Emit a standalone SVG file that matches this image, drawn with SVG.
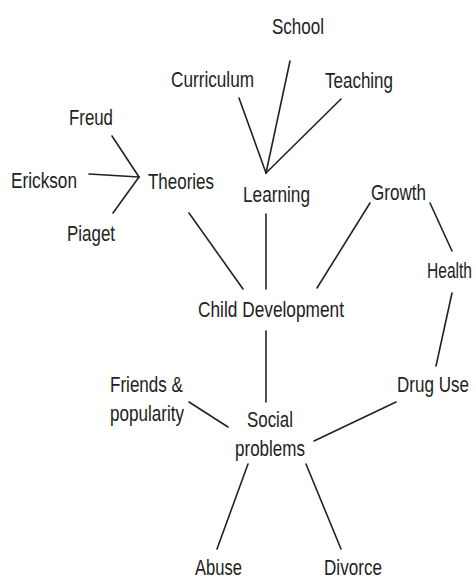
<svg xmlns="http://www.w3.org/2000/svg" width="476" height="577" viewBox="0 0 476 577">
<style>
text{font-family:"Liberation Sans",Arial,sans-serif;font-size:22px;fill:#222}
.c line{stroke:#222;stroke-width:1.6;stroke-linecap:round}
</style>
<rect width="476" height="577" fill="#fff"/>
<g class="c" id="connectors">
<line x1="112" y1="136" x2="139" y2="177"/>
<line x1="89" y1="174" x2="139" y2="177"/>
<line x1="113" y1="213" x2="139" y2="177"/>
<line x1="239" y1="98" x2="266" y2="173"/>
<line x1="290" y1="61" x2="266" y2="173"/>
<line x1="341" y1="99" x2="266" y2="173"/>
<line x1="189" y1="213" x2="243" y2="289"/>
<line x1="266" y1="214" x2="266" y2="289"/>
<line x1="370" y1="203" x2="317" y2="288"/>
<line x1="430" y1="203" x2="452" y2="251"/>
<line x1="452" y1="293" x2="436" y2="366"/>
<line x1="266" y1="331" x2="266" y2="402"/>
<line x1="189" y1="402" x2="228" y2="427"/>
<line x1="396" y1="402" x2="314" y2="441"/>
<line x1="248" y1="464" x2="217" y2="549"/>
<line x1="306" y1="464" x2="341" y2="549"/>
</g>
<g id="school"><text x="272" y="34" textLength="52" lengthAdjust="spacingAndGlyphs">School</text></g>
<g id="curriculum"><text x="171" y="87" textLength="83" lengthAdjust="spacingAndGlyphs">Curriculum</text></g>
<g id="teaching"><text x="325" y="88" textLength="68" lengthAdjust="spacingAndGlyphs">Teaching</text></g>
<g id="freud"><text x="69" y="125" textLength="44" lengthAdjust="spacingAndGlyphs">Freud</text></g>
<g id="erickson"><text x="11" y="188" textLength="66" lengthAdjust="spacingAndGlyphs">Erickson</text></g>
<g id="theories"><text x="148" y="189" textLength="66" lengthAdjust="spacingAndGlyphs">Theories</text></g>
<g id="learning"><text x="243" y="202" textLength="67" lengthAdjust="spacingAndGlyphs">Learning</text></g>
<g id="growth"><text x="371" y="200" textLength="55" lengthAdjust="spacingAndGlyphs">Growth</text></g>
<g id="piaget"><text x="67" y="241" textLength="48" lengthAdjust="spacingAndGlyphs">Piaget</text></g>
<g id="health"><text x="427" y="278" textLength="45" lengthAdjust="spacingAndGlyphs">Health</text></g>
<g id="child-development"><text x="198" y="317" textLength="146" lengthAdjust="spacingAndGlyphs">Child Development</text></g>
<g id="friends"><text x="110" y="392" textLength="73" lengthAdjust="spacingAndGlyphs">Friends &amp;</text><text x="110" y="421" textLength="74" lengthAdjust="spacingAndGlyphs">popularity</text></g>
<g id="social-problems"><text x="247" y="427" textLength="46" lengthAdjust="spacingAndGlyphs">Social</text><text x="235" y="456" textLength="70" lengthAdjust="spacingAndGlyphs">problems</text></g>
<g id="drug-use"><text x="397" y="392" textLength="72" lengthAdjust="spacingAndGlyphs">Drug Use</text></g>
<g id="abuse"><text x="195" y="575" textLength="47" lengthAdjust="spacingAndGlyphs">Abuse</text></g>
<g id="divorce"><text x="324" y="575" textLength="58" lengthAdjust="spacingAndGlyphs">Divorce</text></g>
</svg>
